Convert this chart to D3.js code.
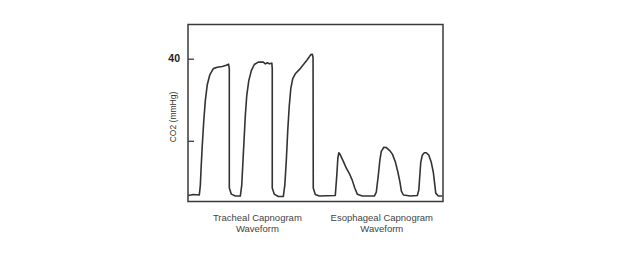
<!DOCTYPE html>
<html>
<head>
<meta charset="utf-8">
<script src="https://cdn.jsdelivr.net/npm/d3@7"></script>
<style>
  body { margin: 0; background: #fff; }
  svg { display: block; }
</style>
</head>
<body>
<div id="my_dataviz"></div>
<script>
// time in seconds (approx), CO2 in mmHg
var times = [0.03, 0.52, 1.11, 1.21, 1.30, 1.40, 1.55, 1.70, 1.89, 2.14, 2.48, 2.87, 3.36, 3.75, 3.98, 4.05, 4.05, 4.25, 4.64,
  5.13, 5.27, 5.37, 5.47, 5.62, 5.76, 5.96, 6.21, 6.50, 6.89, 7.38, 7.58, 7.77, 7.97, 8.22, 8.26, 8.26, 8.46, 8.85,
  9.34, 9.49, 9.64, 9.78, 9.93, 10.08, 10.27, 10.52, 10.91, 11.30, 11.69, 12.04, 12.19, 12.26, 12.28, 12.48, 12.87,
  14.44, 14.59, 14.69, 14.79, 14.93, 15.23, 15.52, 15.81, 16.10, 16.35, 16.60, 17.09,
  18.27, 18.46, 18.66, 18.81, 18.95, 19.20, 19.45, 19.75, 20.04, 20.34, 20.58, 20.78, 20.92, 21.12, 21.80,
  22.48, 22.63, 22.73, 22.82, 22.97, 23.17, 23.36, 23.61, 23.85, 24.05, 24.20, 24.29, 24.54, 24.93];
var co2 = [0, 0.3, 0.15, 3.05, 8.9, 14.7, 22.0, 27.8, 32.4, 35.3, 37.1, 37.5, 37.7, 38.1, 38.4, 37.1, 2.2, 0.4, -0.15,
  -0.15, 3.05, 8.9, 14.7, 23.4, 29.2, 33.6, 36.5, 38.3, 39.0, 39.0, 38.5, 38.8, 38.5, 38.7, 37.1, 2.2, 0.4, -0.3,
  -0.3, 3.05, 10.3, 19.05, 26.3, 31.3, 34.2, 35.6, 36.8, 38.25, 39.7, 41.2, 41.3, 40.3, 2.2, 0.3, -0.15,
  0, 6.0, 10.9, 12.5, 11.9, 10.0, 8.0, 6.5, 4.5, 2.2, 0.4, -0.15,
  -0.15, 1.0, 6.0, 10.3, 12.9, 14.1, 14.0, 13.2, 12.1, 9.7, 6.8, 3.9, 1.3, 0.15, -0.15,
  0, 1.6, 6.0, 9.7, 11.8, 12.5, 12.5, 11.8, 9.7, 6.8, 3.05, 0.7, -0.15, -0.15];

var yTicks = [16, 40];
var yTickLabels = ["", "40"];
var groupLabels = [["Tracheal Capnogram", "Waveform"], ["Esophageal Capnogram", "Waveform"]];
var groupCentres = [6.8, 19.0]; // seconds

var W = 640, H = 257;
var margin = { top: 24.5, right: 443, bottom: 201.5, left: 188 }; // frame edges in px

var svg = d3.select("#my_dataviz")
  .append("svg")
    .attr("width", W)
    .attr("height", H);

var x = d3.scaleLinear().domain([0, 25]).range([margin.left, margin.right]);
var y = d3.scaleLinear().domain([-1.75, 50]).range([margin.bottom, margin.top]);

// frame
svg.append("rect")
  .attr("x", margin.left).attr("y", margin.top)
  .attr("width", margin.right - margin.left).attr("height", margin.bottom - margin.top)
  .attr("fill", "none")
  .attr("stroke", "#3a3a3a")
  .attr("stroke-width", 1.5);

// y ticks
var yAxis = svg.append("g")
  .attr("transform", "translate(" + margin.left + ",0)")
  .call(d3.axisRight(y).tickValues(yTicks).tickSize(6).tickFormat(""));
yAxis.select(".domain").remove();
yAxis.selectAll("line").attr("stroke", "#3a3a3a").attr("stroke-width", 1.3);

svg.selectAll(".ylab")
  .data(yTicks)
  .enter().append("text")
  .attr("class", "ylab")
  .attr("x", margin.left - 8)
  .attr("y", function(d) { return y(d); })
  .attr("dy", "0.35em")
  .attr("text-anchor", "end")
  .attr("font-family", "Liberation Sans, Arial, sans-serif")
  .attr("font-weight", "bold")
  .attr("font-size", "10.5px")
  .attr("fill", "#222")
  .text(function(d, i) { return yTickLabels[i]; });

// y label
svg.append("text")
  .attr("transform", "translate(173,117) rotate(-90)")
  .attr("text-anchor", "middle")
  .attr("dy", "0.35em")
  .attr("font-family", "Liberation Sans, Arial, sans-serif")
  .attr("font-size", "8.5px")
  .attr("fill", "#333")
  .text("CO2 (mmHg)");

// waveform
var pts = times.map(function(t, i) { return [t, co2[i]]; });
var line = d3.line()
  .x(function(d) { return x(d[0]); })
  .y(function(d) { return y(d[1]); });

svg.append("path")
  .datum(pts)
  .attr("d", line)
  .attr("fill", "none")
  .attr("stroke", "#333")
  .attr("stroke-width", 1.6)
  .attr("stroke-linejoin", "round");

// group labels under the axis
groupLabels.forEach(function(lines, g) {
  var t = svg.append("text")
    .attr("text-anchor", "middle")
    .attr("font-family", "Liberation Sans, Arial, sans-serif")
    .attr("font-size", "9.5px")
    .attr("fill", "#444");
  lines.forEach(function(s, k) {
    t.append("tspan")
      .attr("x", x(groupCentres[g]))
      .attr("y", 220.5 + k * 11)
      .text(s);
  });
});
</script>
</body>
</html>
